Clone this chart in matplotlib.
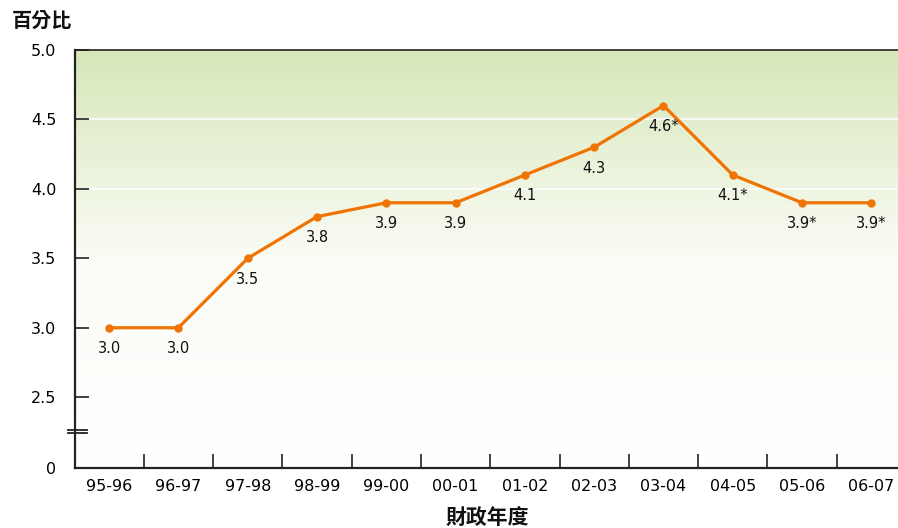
import matplotlib
matplotlib.use("Agg")
import matplotlib.pyplot as plt
import numpy as np
from matplotlib.colors import LinearSegmentedColormap

categories = ["95-96", "96-97", "97-98", "98-99", "99-00", "00-01",
              "01-02", "02-03", "03-04", "04-05", "05-06", "06-07"]
values = [3.0, 3.0, 3.5, 3.8, 3.9, 3.9, 4.1, 4.3, 4.6, 4.1, 3.9, 3.9]
labels = ["3.0", "3.0", "3.5", "3.8", "3.9", "3.9", "4.1", "4.3",
          "4.6*", "4.1*", "3.9*", "3.9*"]
ytick_values = [2.5, 3.0, 3.5, 4.0, 4.5, 5.0]
ytick_labels = ["2.5", "3.0", "3.5", "4.0", "4.5", "5.0"]

plt.rcParams['font.family'] = ['DejaVu Sans', 'Noto Sans CJK TC']

fig = plt.figure(figsize=(8.98, 5.28), dpi=100)
ax = fig.add_axes([74.5/898, 1-468/528, (906-74.5)/898, (468-50)/528])

ymin = 1.99
ymax = 5.0
n = len(categories)
x = np.arange(n)
ax.set_xlim(-0.5, n-0.5)
ax.set_ylim(ymin, ymax)

# gradient background
cmap = LinearSegmentedColormap.from_list("g", ["#ffffff", "#fbfcf6", "#d6e7b9"])
grad = np.linspace(0, 1, 256).reshape(-1, 1)
ax.imshow(grad, aspect='auto', cmap=cmap, origin='lower',
          extent=(-0.5, n-0.5, ymin, ymax), zorder=0)

# white grid lines
for yv in ytick_values[:-1]:
    ax.axhline(yv, color='white', lw=1.2, zorder=1)

ax.plot(x, values, color='#ef7404', lw=2.3, marker='o', ms=5, zorder=3)
for xi, v, lab in zip(x, values, labels):
    ax.annotate(lab, (xi, v), xytext=(0, -15), textcoords='offset points',
                ha='center', va='center', fontsize=10.5, color='#111111')

ax.set_yticks([ymin] + ytick_values)
ax.set_yticklabels(["0"] + ytick_labels, fontsize=11.5)
ax.set_xticks(np.arange(0.5, n-0.5, 1), minor=False)
ax.set_xticklabels([])
ax.set_xticks(x, minor=True)
ax.set_xticklabels(categories, minor=True, fontsize=11.5)
ax.tick_params(axis='x', which='major', direction='in', length=10, width=1.3, color='#333333')
ax.tick_params(axis='x', which='minor', length=0, pad=8)
ax.tick_params(axis='y', direction='in', length=10, width=1.3, color='#333333', pad=13)
ax.yaxis.get_major_ticks()[0].tick1line.set_visible(False)

for s in ['left', 'bottom', 'top']:
    ax.spines[s].set_linewidth(1.6)
    ax.spines[s].set_color('#222222')
ax.spines['right'].set_visible(False)
ax.spines['top'].set_linewidth(1.2)

# axis break marks
yb = 2.5 - (431-397)/138.8
for d in (-0.011, 0.011):
    ax.plot([-0.6, -0.32], [yb + d, yb + d], color='#222222', lw=1.3,
            clip_on=False, zorder=5)

fig.text(12/898, 1-20/528, "百分比", fontsize=14.5, fontweight='bold',
         family=['Noto Sans CJK TC', 'DejaVu Sans'], va='center', ha='left', color='#111111')
fig.text(487/898, 1-517/528, "財政年度", fontsize=15, fontweight='bold',
         family=['Noto Sans CJK TC', 'DejaVu Sans'], va='center', ha='center', color='#111111')

fig.savefig("out.png", dpi=100)
